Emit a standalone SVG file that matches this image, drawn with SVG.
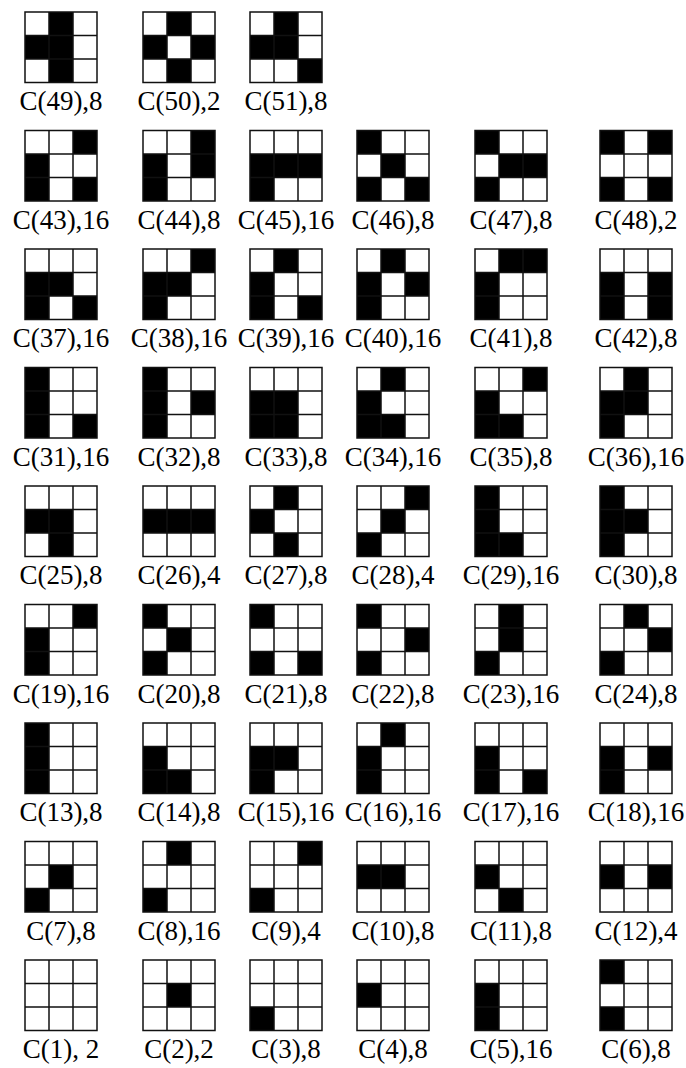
<svg xmlns="http://www.w3.org/2000/svg" xmlns:xlink="http://www.w3.org/1999/xlink" width="686" height="1068" viewBox="0 0 686 1068">
<style>
.bg{fill:#fff}
.grid{fill:none;stroke:#111;stroke-width:1.5}
.on{fill:#000}
.lbl{font-family:"Liberation Serif","Times New Roman",serif;font-size:27px;fill:#000;text-anchor:middle}
</style>
<defs>
<rect id="b" class="on" width="24" height="23.5"/>
<g id="g" class="grid"><rect x="0" y="0" width="72" height="70.5"/><path d="M24 0V70.5M48 0V70.5M0 23.5H72M0 47H72"/></g>
</defs>
<rect class="bg" x="0" y="0" width="686" height="1068"/>

<g id="c49" transform="translate(25,12)"><use href="#b" x="24" y="0"/><use href="#b" x="0" y="23.5"/><use href="#b" x="24" y="23.5"/><use href="#b" x="24" y="47"/><use href="#g"/><text class="lbl" x="36" y="98">C(49),8</text></g>
<g id="c50" transform="translate(143,12)"><use href="#b" x="24" y="0"/><use href="#b" x="0" y="23.5"/><use href="#b" x="48" y="23.5"/><use href="#b" x="24" y="47"/><use href="#g"/><text class="lbl" x="36" y="98">C(50),2</text></g>
<g id="c51" transform="translate(250,12)"><use href="#b" x="24" y="0"/><use href="#b" x="0" y="23.5"/><use href="#b" x="24" y="23.5"/><use href="#b" x="48" y="47"/><use href="#g"/><text class="lbl" x="36" y="98">C(51),8</text></g>

<g id="c43" transform="translate(25,130.5)"><use href="#b" x="48" y="0"/><use href="#b" x="0" y="23.5"/><use href="#b" x="0" y="47"/><use href="#b" x="48" y="47"/><use href="#g"/><text class="lbl" x="36" y="98">C(43),16</text></g>
<g id="c44" transform="translate(143,130.5)"><use href="#b" x="48" y="0"/><use href="#b" x="0" y="23.5"/><use href="#b" x="48" y="23.5"/><use href="#b" x="0" y="47"/><use href="#g"/><text class="lbl" x="36" y="98">C(44),8</text></g>
<g id="c45" transform="translate(250,130.5)"><use href="#b" x="0" y="23.5"/><use href="#b" x="24" y="23.5"/><use href="#b" x="48" y="23.5"/><use href="#b" x="0" y="47"/><use href="#g"/><text class="lbl" x="36" y="98">C(45),16</text></g>
<g id="c46" transform="translate(357,130.5)"><use href="#b" x="0" y="0"/><use href="#b" x="24" y="23.5"/><use href="#b" x="0" y="47"/><use href="#b" x="48" y="47"/><use href="#g"/><text class="lbl" x="36" y="98">C(46),8</text></g>
<g id="c47" transform="translate(475,130.5)"><use href="#b" x="0" y="0"/><use href="#b" x="24" y="23.5"/><use href="#b" x="48" y="23.5"/><use href="#b" x="0" y="47"/><use href="#g"/><text class="lbl" x="36" y="98">C(47),8</text></g>
<g id="c48" transform="translate(600,130.5)"><use href="#b" x="0" y="0"/><use href="#b" x="48" y="0"/><use href="#b" x="0" y="47"/><use href="#b" x="48" y="47"/><use href="#g"/><text class="lbl" x="36" y="98">C(48),2</text></g>

<g id="c37" transform="translate(25,249)"><use href="#b" x="0" y="23.5"/><use href="#b" x="24" y="23.5"/><use href="#b" x="0" y="47"/><use href="#b" x="48" y="47"/><use href="#g"/><text class="lbl" x="36" y="98">C(37),16</text></g>
<g id="c38" transform="translate(143,249)"><use href="#b" x="48" y="0"/><use href="#b" x="0" y="23.5"/><use href="#b" x="24" y="23.5"/><use href="#b" x="0" y="47"/><use href="#g"/><text class="lbl" x="36" y="98">C(38),16</text></g>
<g id="c39" transform="translate(250,249)"><use href="#b" x="24" y="0"/><use href="#b" x="0" y="23.5"/><use href="#b" x="0" y="47"/><use href="#b" x="48" y="47"/><use href="#g"/><text class="lbl" x="36" y="98">C(39),16</text></g>
<g id="c40" transform="translate(357,249)"><use href="#b" x="24" y="0"/><use href="#b" x="0" y="23.5"/><use href="#b" x="48" y="23.5"/><use href="#b" x="0" y="47"/><use href="#g"/><text class="lbl" x="36" y="98">C(40),16</text></g>
<g id="c41" transform="translate(475,249)"><use href="#b" x="24" y="0"/><use href="#b" x="48" y="0"/><use href="#b" x="0" y="23.5"/><use href="#b" x="0" y="47"/><use href="#g"/><text class="lbl" x="36" y="98">C(41),8</text></g>
<g id="c42" transform="translate(600,249)"><use href="#b" x="0" y="23.5"/><use href="#b" x="48" y="23.5"/><use href="#b" x="0" y="47"/><use href="#b" x="48" y="47"/><use href="#g"/><text class="lbl" x="36" y="98">C(42),8</text></g>

<g id="c31" transform="translate(25,367.5)"><use href="#b" x="0" y="0"/><use href="#b" x="0" y="23.5"/><use href="#b" x="0" y="47"/><use href="#b" x="48" y="47"/><use href="#g"/><text class="lbl" x="36" y="98">C(31),16</text></g>
<g id="c32" transform="translate(143,367.5)"><use href="#b" x="0" y="0"/><use href="#b" x="0" y="23.5"/><use href="#b" x="48" y="23.5"/><use href="#b" x="0" y="47"/><use href="#g"/><text class="lbl" x="36" y="98">C(32),8</text></g>
<g id="c33" transform="translate(250,367.5)"><use href="#b" x="0" y="23.5"/><use href="#b" x="24" y="23.5"/><use href="#b" x="0" y="47"/><use href="#b" x="24" y="47"/><use href="#g"/><text class="lbl" x="36" y="98">C(33),8</text></g>
<g id="c34" transform="translate(357,367.5)"><use href="#b" x="24" y="0"/><use href="#b" x="0" y="23.5"/><use href="#b" x="0" y="47"/><use href="#b" x="24" y="47"/><use href="#g"/><text class="lbl" x="36" y="98">C(34),16</text></g>
<g id="c35" transform="translate(475,367.5)"><use href="#b" x="48" y="0"/><use href="#b" x="0" y="23.5"/><use href="#b" x="0" y="47"/><use href="#b" x="24" y="47"/><use href="#g"/><text class="lbl" x="36" y="98">C(35),8</text></g>
<g id="c36" transform="translate(600,367.5)"><use href="#b" x="24" y="0"/><use href="#b" x="0" y="23.5"/><use href="#b" x="24" y="23.5"/><use href="#b" x="0" y="47"/><use href="#g"/><text class="lbl" x="36" y="98">C(36),16</text></g>

<g id="c25" transform="translate(25,486)"><use href="#b" x="0" y="23.5"/><use href="#b" x="24" y="23.5"/><use href="#b" x="24" y="47"/><use href="#g"/><text class="lbl" x="36" y="98">C(25),8</text></g>
<g id="c26" transform="translate(143,486)"><use href="#b" x="0" y="23.5"/><use href="#b" x="24" y="23.5"/><use href="#b" x="48" y="23.5"/><use href="#g"/><text class="lbl" x="36" y="98">C(26),4</text></g>
<g id="c27" transform="translate(250,486)"><use href="#b" x="24" y="0"/><use href="#b" x="0" y="23.5"/><use href="#b" x="24" y="47"/><use href="#g"/><text class="lbl" x="36" y="98">C(27),8</text></g>
<g id="c28" transform="translate(357,486)"><use href="#b" x="48" y="0"/><use href="#b" x="24" y="23.5"/><use href="#b" x="0" y="47"/><use href="#g"/><text class="lbl" x="36" y="98">C(28),4</text></g>
<g id="c29" transform="translate(475,486)"><use href="#b" x="0" y="0"/><use href="#b" x="0" y="23.5"/><use href="#b" x="0" y="47"/><use href="#b" x="24" y="47"/><use href="#g"/><text class="lbl" x="36" y="98">C(29),16</text></g>
<g id="c30" transform="translate(600,486)"><use href="#b" x="0" y="0"/><use href="#b" x="0" y="23.5"/><use href="#b" x="24" y="23.5"/><use href="#b" x="0" y="47"/><use href="#g"/><text class="lbl" x="36" y="98">C(30),8</text></g>

<g id="c19" transform="translate(25,604.5)"><use href="#b" x="48" y="0"/><use href="#b" x="0" y="23.5"/><use href="#b" x="0" y="47"/><use href="#g"/><text class="lbl" x="36" y="98">C(19),16</text></g>
<g id="c20" transform="translate(143,604.5)"><use href="#b" x="0" y="0"/><use href="#b" x="24" y="23.5"/><use href="#b" x="0" y="47"/><use href="#g"/><text class="lbl" x="36" y="98">C(20),8</text></g>
<g id="c21" transform="translate(250,604.5)"><use href="#b" x="0" y="0"/><use href="#b" x="0" y="47"/><use href="#b" x="48" y="47"/><use href="#g"/><text class="lbl" x="36" y="98">C(21),8</text></g>
<g id="c22" transform="translate(357,604.5)"><use href="#b" x="0" y="0"/><use href="#b" x="48" y="23.5"/><use href="#b" x="0" y="47"/><use href="#g"/><text class="lbl" x="36" y="98">C(22),8</text></g>
<g id="c23" transform="translate(475,604.5)"><use href="#b" x="24" y="0"/><use href="#b" x="24" y="23.5"/><use href="#b" x="0" y="47"/><use href="#g"/><text class="lbl" x="36" y="98">C(23),16</text></g>
<g id="c24" transform="translate(600,604.5)"><use href="#b" x="24" y="0"/><use href="#b" x="48" y="23.5"/><use href="#b" x="0" y="47"/><use href="#g"/><text class="lbl" x="36" y="98">C(24),8</text></g>

<g id="c13" transform="translate(25,723)"><use href="#b" x="0" y="0"/><use href="#b" x="0" y="23.5"/><use href="#b" x="0" y="47"/><use href="#g"/><text class="lbl" x="36" y="98">C(13),8</text></g>
<g id="c14" transform="translate(143,723)"><use href="#b" x="0" y="23.5"/><use href="#b" x="0" y="47"/><use href="#b" x="24" y="47"/><use href="#g"/><text class="lbl" x="36" y="98">C(14),8</text></g>
<g id="c15" transform="translate(250,723)"><use href="#b" x="0" y="23.5"/><use href="#b" x="24" y="23.5"/><use href="#b" x="0" y="47"/><use href="#g"/><text class="lbl" x="36" y="98">C(15),16</text></g>
<g id="c16" transform="translate(357,723)"><use href="#b" x="24" y="0"/><use href="#b" x="0" y="23.5"/><use href="#b" x="0" y="47"/><use href="#g"/><text class="lbl" x="36" y="98">C(16),16</text></g>
<g id="c17" transform="translate(475,723)"><use href="#b" x="0" y="23.5"/><use href="#b" x="0" y="47"/><use href="#b" x="48" y="47"/><use href="#g"/><text class="lbl" x="36" y="98">C(17),16</text></g>
<g id="c18" transform="translate(600,723)"><use href="#b" x="0" y="23.5"/><use href="#b" x="48" y="23.5"/><use href="#b" x="0" y="47"/><use href="#g"/><text class="lbl" x="36" y="98">C(18),16</text></g>

<g id="c7" transform="translate(25,841.5)"><use href="#b" x="24" y="23.5"/><use href="#b" x="0" y="47"/><use href="#g"/><text class="lbl" x="36" y="98">C(7),8</text></g>
<g id="c8" transform="translate(143,841.5)"><use href="#b" x="24" y="0"/><use href="#b" x="0" y="47"/><use href="#g"/><text class="lbl" x="36" y="98">C(8),16</text></g>
<g id="c9" transform="translate(250,841.5)"><use href="#b" x="48" y="0"/><use href="#b" x="0" y="47"/><use href="#g"/><text class="lbl" x="36" y="98">C(9),4</text></g>
<g id="c10" transform="translate(357,841.5)"><use href="#b" x="0" y="23.5"/><use href="#b" x="24" y="23.5"/><use href="#g"/><text class="lbl" x="36" y="98">C(10),8</text></g>
<g id="c11" transform="translate(475,841.5)"><use href="#b" x="0" y="23.5"/><use href="#b" x="24" y="47"/><use href="#g"/><text class="lbl" x="36" y="98">C(11),8</text></g>
<g id="c12" transform="translate(600,841.5)"><use href="#b" x="0" y="23.5"/><use href="#b" x="48" y="23.5"/><use href="#g"/><text class="lbl" x="36" y="98">C(12),4</text></g>

<g id="c1" transform="translate(25,960)"><use href="#g"/><text class="lbl" x="36" y="98">C(1), 2</text></g>
<g id="c2" transform="translate(143,960)"><use href="#b" x="24" y="23.5"/><use href="#g"/><text class="lbl" x="36" y="98">C(2),2</text></g>
<g id="c3" transform="translate(250,960)"><use href="#b" x="0" y="47"/><use href="#g"/><text class="lbl" x="36" y="98">C(3),8</text></g>
<g id="c4" transform="translate(357,960)"><use href="#b" x="0" y="23.5"/><use href="#g"/><text class="lbl" x="36" y="98">C(4),8</text></g>
<g id="c5" transform="translate(475,960)"><use href="#b" x="0" y="23.5"/><use href="#b" x="0" y="47"/><use href="#g"/><text class="lbl" x="36" y="98">C(5),16</text></g>
<g id="c6" transform="translate(600,960)"><use href="#b" x="0" y="0"/><use href="#b" x="0" y="47"/><use href="#g"/><text class="lbl" x="36" y="98">C(6),8</text></g>
</svg>
